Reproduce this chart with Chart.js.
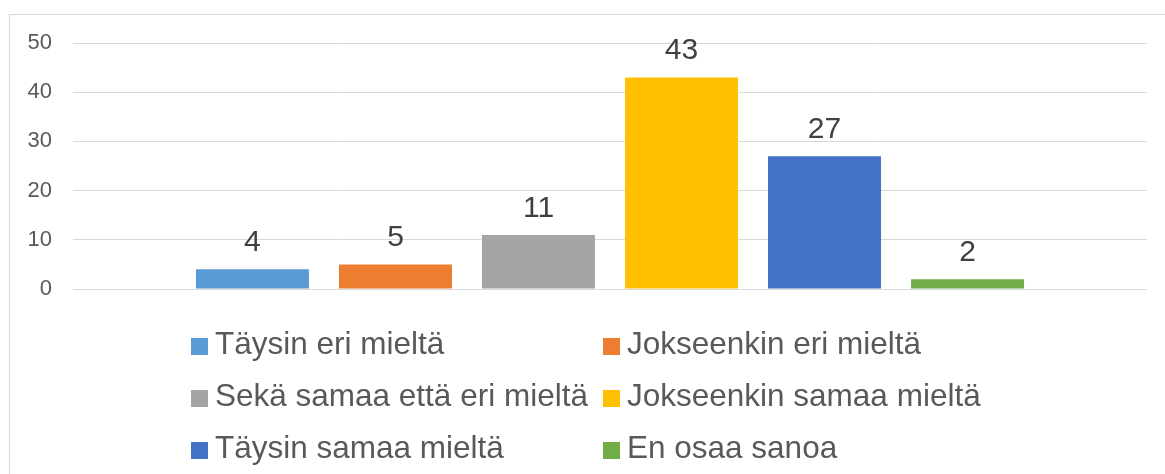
<!DOCTYPE html>
<html>
<head>
<meta charset="utf-8">
<script src="https://cdn.jsdelivr.net/npm/chart.js@4"></script>
<style>
    html, body { margin: 0; padding: 0; background: #fff; overflow: hidden; }
    #wrap { position: relative; width: 1165px; height: 474px; }
    #frame { position: absolute; left: 9px; top: 14px; width: 1170px; height: 480px; border: 1px solid #d9d9d9; box-sizing: border-box; }
    #chart { position: absolute; left: 0; top: 0; }
    #legend { position: absolute; left: 0; top: 0; width: 1165px; height: 474px; font-family: "Liberation Sans", Arial, sans-serif; font-size: 31.5px; color: #595959; }
    .item { position: absolute; white-space: nowrap; line-height: 36px; height: 36px; }
    .item i { display: inline-block; width: 17px; height: 17px; margin-right: 7px; vertical-align: -1px; }
</style>
</head>
<body>
<div id="wrap">
    <div id="frame"></div>
    <canvas id="chart" width="1165" height="474"></canvas>
    <div id="legend"></div>
</div>
<script>
"use strict";

var categories = [""];
var seriesNames = [
    "Täysin eri mieltä",
    "Jokseenkin eri mieltä",
    "Sekä samaa että eri mieltä",
    "Jokseenkin samaa mieltä",
    "Täysin samaa mieltä",
    "En osaa sanoa"
];
var seriesValues = [4, 5, 11, 43, 27, 2];
var seriesColors = ["#5B9BD5", "#ED7D31", "#A5A5A5", "#FFC000", "#4472C4", "#70AD47"];
var yTicks = [0, 10, 20, 30, 40, 50];

var fontFamily = "'Liberation Sans', Arial, sans-serif";

/**
 * Draws the value above each bar.
 */
var valueLabels = {
    id: "valueLabels",
    afterDatasetsDraw: function (chart) {
        var ctx = chart.ctx;
        ctx.save();
        ctx.font = "30px " + fontFamily;
        ctx.fillStyle = "#404040";
        ctx.textAlign = "center";
        ctx.textBaseline = "alphabetic";
        chart.data.datasets.forEach(function (ds, i) {
            var meta = chart.getDatasetMeta(i);
            meta.data.forEach(function (bar, j) {
                ctx.fillText(String(ds.data[j]), bar.x, bar.y - 18);
            });
        });
        ctx.restore();
    }
};

var datasets = seriesNames.map(function (name, i) {
    return {
        label: name,
        data: [seriesValues[i]],
        backgroundColor: seriesColors[i],
        borderWidth: 0,
        categoryPercentage: 0.799,
        barPercentage: 0.79
    };
});

var chart = new Chart(document.getElementById("chart"), {
    type: "bar",
    data: { labels: categories, datasets: datasets },
    plugins: [valueLabels],
    options: {
        responsive: false,
        animation: false,
        layout: { padding: { left: 0, top: 43, right: 18, bottom: 177 } },
        plugins: {
            legend: { display: false },
            tooltip: { enabled: false }
        },
        scales: {
            x: {
                grid: { display: false },
                border: { display: false },
                ticks: { display: false }
            },
            y: {
                min: yTicks[0],
                max: yTicks[yTicks.length - 1],
                afterFit: function (scale) { scale.width = 73; },
                afterBuildTicks: function (scale) {
                    scale.ticks = yTicks.map(function (v) { return { value: v }; });
                },
                grid: { color: "#d9d9d9", lineWidth: 1, drawTicks: false },
                border: { display: false },
                ticks: {
                    padding: 21,
                    color: "#595959",
                    font: { family: fontFamily, size: 22 }
                }
            }
        }
    }
});

// legend in two columns, like the original
var legendCols = [191, 603];
var legendRows = [343, 395, 447];
var legend = document.getElementById("legend");
seriesNames.forEach(function (name, i) {
    var el = document.createElement("div");
    el.className = "item";
    el.style.left = legendCols[i % 2] + "px";
    el.style.top = (legendRows[Math.floor(i / 2)] - 18) + "px";
    el.innerHTML = '<i style="background:' + seriesColors[i] + '"></i>' + name;
    legend.appendChild(el);
});
</script>
</body>
</html>
